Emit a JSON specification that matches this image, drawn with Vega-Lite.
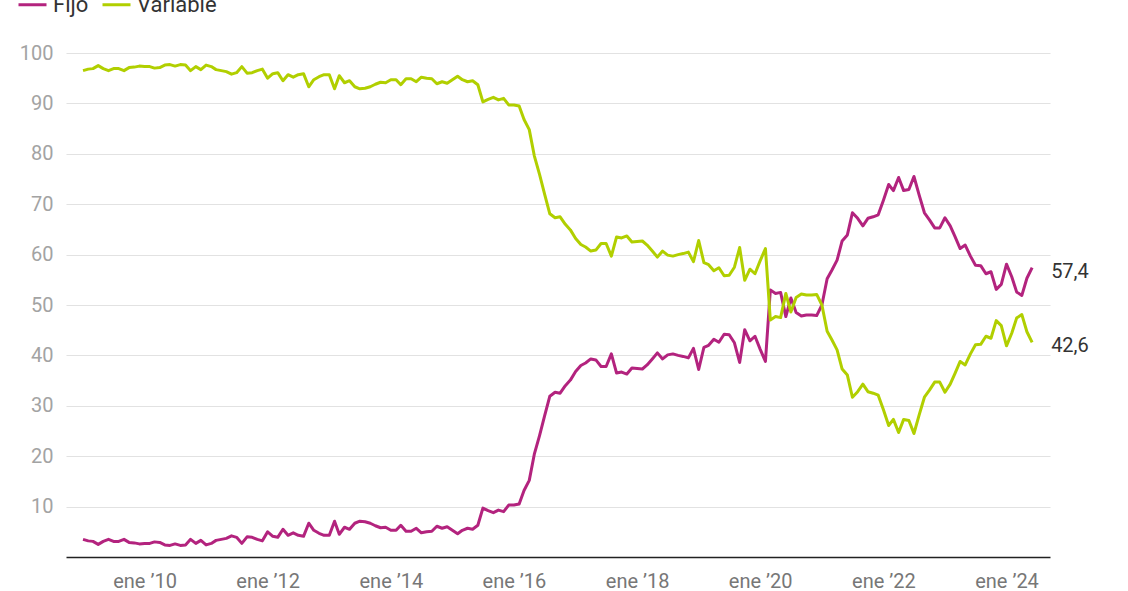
{
"$schema": "https://vega.github.io/schema/vega-lite/v6.json",
"width": 984, "height": 504,
"autosize": {"type": "none"},
"padding": {"left": 66, "top": 53, "right": 78, "bottom": 34},
"background": "white",
"config": {"view": {"stroke": null}, "font": "Roboto", "locale": {"number": {"decimal": ",", "thousands": ".", "grouping": [3], "currency": ["", " €"]}}},
"data": {"values": [
{"date":"2009-01-01","Fijo":3.5,"Variable":96.5},{"date":"2009-02-01","Fijo":3.2,"Variable":96.8},{"date":"2009-03-01","Fijo":3.1,"Variable":96.9},{"date":"2009-04-01","Fijo":2.5,"Variable":97.5},{"date":"2009-05-01","Fijo":3.1,"Variable":96.9},{"date":"2009-06-01","Fijo":3.5,"Variable":96.5},{"date":"2009-07-01","Fijo":3.1,"Variable":96.9},{"date":"2009-08-01","Fijo":3.1,"Variable":96.9},{"date":"2009-09-01","Fijo":3.5,"Variable":96.5},{"date":"2009-10-01","Fijo":2.9,"Variable":97.1},{"date":"2009-11-01","Fijo":2.8,"Variable":97.2},{"date":"2009-12-01","Fijo":2.6,"Variable":97.4},
{"date":"2010-01-01","Fijo":2.7,"Variable":97.3},{"date":"2010-02-01","Fijo":2.7,"Variable":97.3},{"date":"2010-03-01","Fijo":3.0,"Variable":97.0},{"date":"2010-04-01","Fijo":2.9,"Variable":97.1},{"date":"2010-05-01","Fijo":2.4,"Variable":97.6},{"date":"2010-06-01","Fijo":2.3,"Variable":97.7},{"date":"2010-07-01","Fijo":2.6,"Variable":97.4},{"date":"2010-08-01","Fijo":2.3,"Variable":97.7},{"date":"2010-09-01","Fijo":2.4,"Variable":97.6},{"date":"2010-10-01","Fijo":3.5,"Variable":96.5},{"date":"2010-11-01","Fijo":2.7,"Variable":97.3},{"date":"2010-12-01","Fijo":3.3,"Variable":96.7},
{"date":"2011-01-01","Fijo":2.4,"Variable":97.6},{"date":"2011-02-01","Fijo":2.7,"Variable":97.3},{"date":"2011-03-01","Fijo":3.3,"Variable":96.7},{"date":"2011-04-01","Fijo":3.5,"Variable":96.5},{"date":"2011-05-01","Fijo":3.7,"Variable":96.3},{"date":"2011-06-01","Fijo":4.2,"Variable":95.8},{"date":"2011-07-01","Fijo":3.9,"Variable":96.1},{"date":"2011-08-01","Fijo":2.7,"Variable":97.3},{"date":"2011-09-01","Fijo":4.0,"Variable":96.0},{"date":"2011-10-01","Fijo":3.9,"Variable":96.1},{"date":"2011-11-01","Fijo":3.5,"Variable":96.5},{"date":"2011-12-01","Fijo":3.2,"Variable":96.8},
{"date":"2012-01-01","Fijo":5.0,"Variable":95.0},{"date":"2012-02-01","Fijo":4.1,"Variable":95.9},{"date":"2012-03-01","Fijo":3.9,"Variable":96.1},{"date":"2012-04-01","Fijo":5.5,"Variable":94.5},{"date":"2012-05-01","Fijo":4.3,"Variable":95.7},{"date":"2012-06-01","Fijo":4.8,"Variable":95.2},{"date":"2012-07-01","Fijo":4.3,"Variable":95.7},{"date":"2012-08-01","Fijo":4.1,"Variable":95.9},{"date":"2012-09-01","Fijo":6.7,"Variable":93.3},{"date":"2012-10-01","Fijo":5.3,"Variable":94.7},{"date":"2012-11-01","Fijo":4.7,"Variable":95.3},{"date":"2012-12-01","Fijo":4.3,"Variable":95.7},
{"date":"2013-01-01","Fijo":4.3,"Variable":95.7},{"date":"2013-02-01","Fijo":7.1,"Variable":92.9},{"date":"2013-03-01","Fijo":4.5,"Variable":95.5},{"date":"2013-04-01","Fijo":5.9,"Variable":94.1},{"date":"2013-05-01","Fijo":5.5,"Variable":94.5},{"date":"2013-06-01","Fijo":6.7,"Variable":93.3},{"date":"2013-07-01","Fijo":7.1,"Variable":92.9},{"date":"2013-08-01","Fijo":7.0,"Variable":93.0},{"date":"2013-09-01","Fijo":6.7,"Variable":93.3},{"date":"2013-10-01","Fijo":6.2,"Variable":93.8},{"date":"2013-11-01","Fijo":5.8,"Variable":94.2},{"date":"2013-12-01","Fijo":5.9,"Variable":94.1},
{"date":"2014-01-01","Fijo":5.3,"Variable":94.7},{"date":"2014-02-01","Fijo":5.3,"Variable":94.7},{"date":"2014-03-01","Fijo":6.3,"Variable":93.7},{"date":"2014-04-01","Fijo":5.1,"Variable":94.9},{"date":"2014-05-01","Fijo":5.1,"Variable":94.9},{"date":"2014-06-01","Fijo":5.7,"Variable":94.3},{"date":"2014-07-01","Fijo":4.8,"Variable":95.2},{"date":"2014-08-01","Fijo":5.0,"Variable":95.0},{"date":"2014-09-01","Fijo":5.1,"Variable":94.9},{"date":"2014-10-01","Fijo":6.1,"Variable":93.9},{"date":"2014-11-01","Fijo":5.7,"Variable":94.3},{"date":"2014-12-01","Fijo":6.0,"Variable":94.0},
{"date":"2015-01-01","Fijo":5.3,"Variable":94.7},{"date":"2015-02-01","Fijo":4.6,"Variable":95.4},{"date":"2015-03-01","Fijo":5.3,"Variable":94.7},{"date":"2015-04-01","Fijo":5.7,"Variable":94.3},{"date":"2015-05-01","Fijo":5.5,"Variable":94.5},{"date":"2015-06-01","Fijo":6.3,"Variable":93.7},{"date":"2015-07-01","Fijo":9.7,"Variable":90.3},{"date":"2015-08-01","Fijo":9.2,"Variable":90.8},{"date":"2015-09-01","Fijo":8.8,"Variable":91.2},{"date":"2015-10-01","Fijo":9.3,"Variable":90.7},{"date":"2015-11-01","Fijo":9.0,"Variable":91.0},{"date":"2015-12-01","Fijo":10.3,"Variable":89.7},
{"date":"2016-01-01","Fijo":10.3,"Variable":89.7},{"date":"2016-02-01","Fijo":10.5,"Variable":89.5},{"date":"2016-03-01","Fijo":13.2,"Variable":86.8},{"date":"2016-04-01","Fijo":15.2,"Variable":84.8},{"date":"2016-05-01","Fijo":20.4,"Variable":79.6},{"date":"2016-06-01","Fijo":24.1,"Variable":75.9},{"date":"2016-07-01","Fijo":28.0,"Variable":72.0},{"date":"2016-08-01","Fijo":31.9,"Variable":68.1},{"date":"2016-09-01","Fijo":32.7,"Variable":67.3},{"date":"2016-10-01","Fijo":32.5,"Variable":67.5},{"date":"2016-11-01","Fijo":34.0,"Variable":66.0},{"date":"2016-12-01","Fijo":35.1,"Variable":64.9},
{"date":"2017-01-01","Fijo":36.8,"Variable":63.2},{"date":"2017-02-01","Fijo":38.0,"Variable":62.0},{"date":"2017-03-01","Fijo":38.5,"Variable":61.5},{"date":"2017-04-01","Fijo":39.3,"Variable":60.7},{"date":"2017-05-01","Fijo":39.1,"Variable":60.9},{"date":"2017-06-01","Fijo":37.8,"Variable":62.2},{"date":"2017-07-01","Fijo":37.8,"Variable":62.2},{"date":"2017-08-01","Fijo":40.3,"Variable":59.7},{"date":"2017-09-01","Fijo":36.5,"Variable":63.5},{"date":"2017-10-01","Fijo":36.7,"Variable":63.3},{"date":"2017-11-01","Fijo":36.3,"Variable":63.7},{"date":"2017-12-01","Fijo":37.5,"Variable":62.5},
{"date":"2018-01-01","Fijo":37.4,"Variable":62.6},{"date":"2018-02-01","Fijo":37.3,"Variable":62.7},{"date":"2018-03-01","Fijo":38.1,"Variable":61.9},{"date":"2018-04-01","Fijo":39.3,"Variable":60.7},{"date":"2018-05-01","Fijo":40.5,"Variable":59.5},{"date":"2018-06-01","Fijo":39.3,"Variable":60.7},{"date":"2018-07-01","Fijo":40.1,"Variable":59.9},{"date":"2018-08-01","Fijo":40.3,"Variable":59.7},{"date":"2018-09-01","Fijo":40.0,"Variable":60.0},{"date":"2018-10-01","Fijo":39.8,"Variable":60.2},{"date":"2018-11-01","Fijo":39.5,"Variable":60.5},{"date":"2018-12-01","Fijo":41.4,"Variable":58.6},
{"date":"2019-01-01","Fijo":37.2,"Variable":62.8},{"date":"2019-02-01","Fijo":41.6,"Variable":58.4},{"date":"2019-03-01","Fijo":42.0,"Variable":58.0},{"date":"2019-04-01","Fijo":43.2,"Variable":56.8},{"date":"2019-05-01","Fijo":42.6,"Variable":57.4},{"date":"2019-06-01","Fijo":44.2,"Variable":55.8},{"date":"2019-07-01","Fijo":44.1,"Variable":55.9},{"date":"2019-08-01","Fijo":42.5,"Variable":57.5},{"date":"2019-09-01","Fijo":38.6,"Variable":61.4},{"date":"2019-10-01","Fijo":45.1,"Variable":54.9},{"date":"2019-11-01","Fijo":42.9,"Variable":57.1},{"date":"2019-12-01","Fijo":43.8,"Variable":56.2},
{"date":"2020-01-01","Fijo":41.2,"Variable":58.8},{"date":"2020-02-01","Fijo":38.8,"Variable":61.2},{"date":"2020-03-01","Fijo":53.0,"Variable":47.0},{"date":"2020-04-01","Fijo":52.3,"Variable":47.7},{"date":"2020-05-01","Fijo":52.5,"Variable":47.5},{"date":"2020-06-01","Fijo":47.7,"Variable":52.3},{"date":"2020-07-01","Fijo":51.4,"Variable":48.6},{"date":"2020-08-01","Fijo":48.5,"Variable":51.5},{"date":"2020-09-01","Fijo":47.8,"Variable":52.2},{"date":"2020-10-01","Fijo":48.0,"Variable":52.0},{"date":"2020-11-01","Fijo":48.0,"Variable":52.0},{"date":"2020-12-01","Fijo":47.9,"Variable":52.1},
{"date":"2021-01-01","Fijo":50.0,"Variable":50.0},{"date":"2021-02-01","Fijo":55.2,"Variable":44.8},{"date":"2021-03-01","Fijo":56.9,"Variable":43.1},{"date":"2021-04-01","Fijo":58.9,"Variable":41.1},{"date":"2021-05-01","Fijo":62.7,"Variable":37.3},{"date":"2021-06-01","Fijo":63.9,"Variable":36.1},{"date":"2021-07-01","Fijo":68.3,"Variable":31.7},{"date":"2021-08-01","Fijo":67.2,"Variable":32.8},{"date":"2021-09-01","Fijo":65.7,"Variable":34.3},{"date":"2021-10-01","Fijo":67.2,"Variable":32.8},{"date":"2021-11-01","Fijo":67.5,"Variable":32.5},{"date":"2021-12-01","Fijo":67.9,"Variable":32.1},
{"date":"2022-01-01","Fijo":70.8,"Variable":29.2},{"date":"2022-02-01","Fijo":73.9,"Variable":26.1},{"date":"2022-03-01","Fijo":72.7,"Variable":27.3},{"date":"2022-04-01","Fijo":75.3,"Variable":24.7},{"date":"2022-05-01","Fijo":72.7,"Variable":27.3},{"date":"2022-06-01","Fijo":72.9,"Variable":27.1},{"date":"2022-07-01","Fijo":75.5,"Variable":24.5},{"date":"2022-08-01","Fijo":71.8,"Variable":28.2},{"date":"2022-09-01","Fijo":68.3,"Variable":31.7},{"date":"2022-10-01","Fijo":66.9,"Variable":33.1},{"date":"2022-11-01","Fijo":65.3,"Variable":34.7},{"date":"2022-12-01","Fijo":65.3,"Variable":34.7},
{"date":"2023-01-01","Fijo":67.3,"Variable":32.7},{"date":"2023-02-01","Fijo":65.7,"Variable":34.3},{"date":"2023-03-01","Fijo":63.6,"Variable":36.4},{"date":"2023-04-01","Fijo":61.2,"Variable":38.8},{"date":"2023-05-01","Fijo":61.9,"Variable":38.1},{"date":"2023-06-01","Fijo":59.7,"Variable":40.3},{"date":"2023-07-01","Fijo":57.9,"Variable":42.1},{"date":"2023-08-01","Fijo":57.8,"Variable":42.2},{"date":"2023-09-01","Fijo":56.2,"Variable":43.8},{"date":"2023-10-01","Fijo":56.6,"Variable":43.4},{"date":"2023-11-01","Fijo":53.1,"Variable":46.9},{"date":"2023-12-01","Fijo":54.1,"Variable":45.9},
{"date":"2024-01-01","Fijo":58.1,"Variable":41.9},{"date":"2024-02-01","Fijo":55.6,"Variable":44.4},{"date":"2024-03-01","Fijo":52.6,"Variable":47.4},{"date":"2024-04-01","Fijo":51.9,"Variable":48.1},{"date":"2024-05-01","Fijo":55.3,"Variable":44.7},{"date":"2024-06-01","Fijo":57.4,"Variable":42.6}
]},
"transform": [{"fold": ["Fijo", "Variable"], "as": ["serie", "valor"]}],
"encoding": {
  "x": {"field": "date", "type": "temporal",
    "scale": {"type": "utc", "domain": [{"year": 2008, "month": 9, "date": 22, "utc": true}, {"year": 2024, "month": 9, "date": 15, "utc": true}]},
    "axis": {"title": null, "grid": false, "ticks": false, "domainColor": "#222", "domainWidth": 1.5,
      "values": [{"year": 2010, "month": 1, "date": 1, "utc": true}, {"year": 2012, "month": 1, "date": 1, "utc": true}, {"year": 2014, "month": 1, "date": 1, "utc": true}, {"year": 2016, "month": 1, "date": 1, "utc": true}, {"year": 2018, "month": 1, "date": 1, "utc": true}, {"year": 2020, "month": 1, "date": 1, "utc": true}, {"year": 2022, "month": 1, "date": 1, "utc": true}, {"year": 2024, "month": 1, "date": 1, "utc": true}],
      "labelExpr": "'ene \u2019' + utcFormat(datum.value, '%y')",
      "labelFont": "Roboto", "labelFontSize": 20, "labelColor": "#777777", "labelPadding": 14}},
  "y": {"field": "valor", "type": "quantitative",
    "scale": {"domain": [0, 100], "nice": false},
    "axis": {"title": null, "domain": false, "ticks": false, "values": [10, 20, 30, 40, 50, 60, 70, 80, 90, 100],
      "gridColor": "#e2e2e2", "gridWidth": 1.2, "labelFont": "Roboto", "labelFontSize": 20, "labelColor": "#a3a3a3", "labelPadding": 13}}
},
"layer": [
  {"mark": {"type": "line", "strokeWidth": 3, "strokeJoin": "round"},
   "encoding": {
     "color": {"field": "serie", "type": "nominal",
       "scale": {"domain": ["Fijo", "Variable"], "range": ["#b3237e", "#b1cf00"]},
       "legend": {"orient": "none", "legendX": -49, "legendY": -64, "direction": "horizontal", "title": null,
         "symbolType": "stroke", "symbolStrokeWidth": 3, "symbolSize": 784, "labelFont": "Roboto", "labelFontSize": 22, "labelColor": "#333333", "columnPadding": 7, "labelOffset": 5}}}},
  {"transform": [{"filter": {"field": "date", "equal": {"year": 2024, "month": 6, "date": 1, "utc": true}}}],
   "mark": {"type": "text", "align": "left", "baseline": "middle", "dx": 19, "dy": 4, "font": "Roboto", "fontSize": 20, "color": "#333333"},
   "encoding": {"text": {"field": "valor", "type": "quantitative", "format": ".1f"}}}
]
}
